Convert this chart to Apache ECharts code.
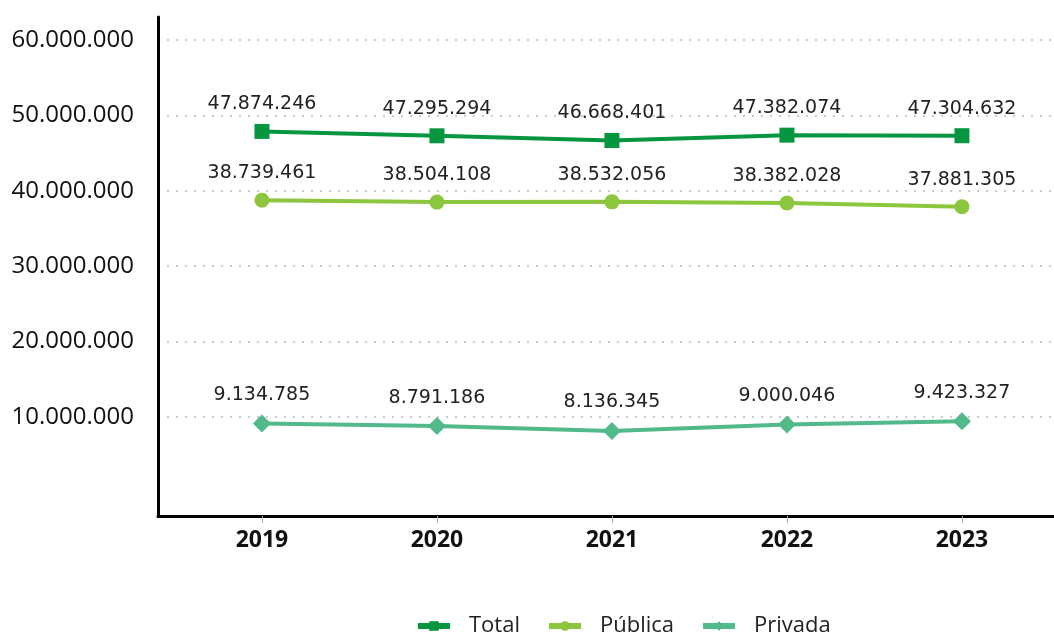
<!DOCTYPE html>
<html><head><meta charset="utf-8">
<script src="https://cdn.jsdelivr.net/npm/echarts@6/dist/echarts.min.js"></script>
<style>html,body{margin:0;padding:0;background:#fff}#c{width:1054px;height:634px}</style>
</head><body><div id="c"></div>
<script>
const categories = ['2019', '2020', '2021', '2022', '2023'];
const total = [47874246, 47295294, 46668401, 47382074, 47304632];
const publica = [38739461, 38504108, 38532056, 38382028, 37881305];
const privada = [9134785, 8791186, 8136345, 9000046, 9423327];
const yTicks = [10000000, 20000000, 30000000, 40000000, 50000000, 60000000];
const seriesNames = ['Total', 'Pública', 'Privada'];

const fmt = v => Math.round(v).toString().replace(/\B(?=(\d{3})+(?!\d))/g, '.');
const years = categories.map(Number);
const pairs = arr => arr.map((v, i) => [years[i], v]);

const colors = ['#05963f', '#8cc63e', '#52b98a'];
const symbols = ['rect', 'circle', 'diamond'];
const symbolSizes = [15, 15, 18];
const data = [total, publica, privada];

const chart = echarts.init(document.getElementById('c'));
chart.setOption({
  animation: false,
  grid: { left: 158, right: 0, top: 17, bottom: 118, containLabel: false },
  legend: {
    left: 410, top: 610, itemWidth: 32, itemHeight: 12, itemGap: 26,
    lineStyle: { width: 6 },
    textStyle: { fontFamily: 'Open Sans', fontSize: 22, color: '#222', padding: [0, 0, 0, 14] },
    data: seriesNames
  },
  xAxis: {
    type: 'value', min: 2018.406, max: 2023.526,
    axisLine: { show: true, onZero: false, lineStyle: { color: '#000', width: 3 } },
    axisTick: { show: true, customValues: years, length: 7, lineStyle: { color: '#aaa', width: 1 } },
    axisLabel: { customValues: years, formatter: v => String(v), margin: 13,
      fontFamily: 'Open Sans', fontWeight: 'bold', fontSize: 23, color: '#111' },
    splitLine: { show: false }
  },
  yAxis: {
    type: 'value', min: -3130000, max: 63050000,
    axisLine: { show: true, lineStyle: { color: '#000', width: 3 } },
    axisTick: { show: false, customValues: yTicks },
    axisLabel: { customValues: yTicks, formatter: fmt, margin: 24,
      fontFamily: 'Open Sans', fontSize: 24, color: '#111' },
    splitLine: { show: true, lineStyle: { color: '#bbb', type: [2, 7], width: 1.5 } }
  },
  series: data.map((arr, k) => ({
    name: seriesNames[k], type: 'line', data: pairs(arr),
    symbol: symbols[k], symbolSize: symbolSizes[k],
    itemStyle: { color: colors[k] },
    lineStyle: { color: colors[k], width: 4 },
    label: { show: true, position: 'top', distance: 10, formatter: p => fmt(p.value[1]),
      fontFamily: 'DejaVu Sans', fontSize: 19, color: '#222' }
  }))
});
</script></body></html>
